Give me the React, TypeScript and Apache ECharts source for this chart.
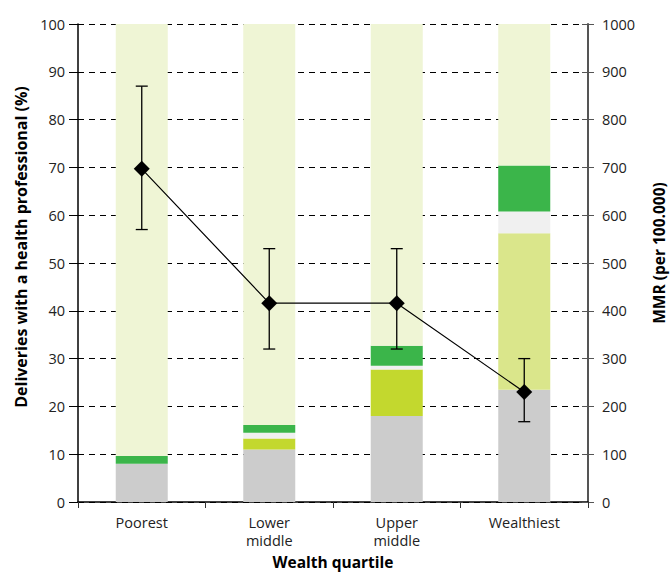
import React, { useEffect, useRef } from "react";
import * as echarts from "echarts";

const categories = ["Poorest", "Lower\nmiddle", "Upper\nmiddle", "Wealthiest"];
// stacked bar segments (% of deliveries)
const graySeg = [8, 11, 18, 23.5];
const midSeg = [0, 2.3, 9.7, 32.7];
const gapSeg = [0, 1.2, 0.8, 4.6];
const greenSeg = [1.6, 1.6, 4.2, 9.6];
const midColors = ["#C3D82E", "#C3D82E", "#C3D82E", "#DAE68B"];
// MMR (per 100.000)
const mmr = [697, 416, 416, 230];
const mmrLow = [570, 320, 320, 168];
const mmrHigh = [870, 530, 530, 300];

const leftTicks = { min: 0, max: 100, interval: 10 };
const rightTicks = { min: 0, max: 1000, interval: 100 };

const FONT = "'Open Sans', 'Noto Sans', sans-serif";

export default function App() {
  const ref = useRef<HTMLDivElement>(null);
  useEffect(() => {
    if (!ref.current) return;
    const chart = echarts.init(ref.current, undefined, { renderer: "svg" });
    const rest = categories.map(
      (_, i) => 100 - graySeg[i] - midSeg[i] - gapSeg[i] - greenSeg[i]
    );
    const barCommon = {
      type: "bar",
      stack: "total",
      barWidth: 52,
      yAxisIndex: 0,
      z: 2,
      silent: true,
    };
    const nameStyle = {
      fontWeight: "bold",
      fontSize: 16,
      color: "#000",
      fontFamily: FONT,
    };
    chart.setOption({
      animation: false,
      textStyle: { fontFamily: FONT },
      grid: {
        left: 78,
        right: 83,
        top: 24,
        bottom: 72,
        containLabel: false,
        outerBoundsMode: "none",
      },
      xAxis: {
        type: "category",
        data: categories,
        axisLine: { lineStyle: { color: "#000", width: 1.5 } },
        axisTick: { show: true, length: 6, lineStyle: { color: "#333" } },
        axisLabel: {
          color: "#222",
          fontSize: 14.5,
          margin: 11,
          lineHeight: 18,
          fontFamily: FONT,
        },
        name: "Wealth quartile",
        nameLocation: "middle",
        nameGap: 46,
        nameTextStyle: { ...nameStyle, fontSize: 15.5, lineHeight: 16 },
      },
      yAxis: [
        {
          type: "value",
          ...leftTicks,
          position: "left",
          axisLine: { show: true, lineStyle: { color: "#000", width: 1.5 } },
          axisTick: { show: true, length: 9, lineStyle: { color: "#000" } },
          axisLabel: {
            color: "#222",
            fontSize: 14.5,
            margin: 13,
            fontFamily: FONT,
            formatter: (v: number) => String(v),
          },
          splitLine: {
            show: true,
            lineStyle: { color: "#000", type: [6, 5], width: 1 },
          },
          name: "Deliveries with a health professional (%)",
          nameLocation: "middle",
          nameRotate: 90,
          nameGap: 49,
          nameTextStyle: { ...nameStyle, padding: [0, 0, 0, 32] },
        },
        {
          type: "value",
          ...rightTicks,
          position: "right",
          axisLine: { show: true, lineStyle: { color: "#555", width: 2 } },
          axisTick: { show: true, length: 6, lineStyle: { color: "#555" } },
          axisLabel: {
            color: "#222",
            fontSize: 14.5,
            margin: 14,
            fontFamily: FONT,
            formatter: (v: number) => String(v),
          },
          splitLine: { show: false },
          name: "MMR (per 100.000)",
          nameLocation: "middle",
          nameRotate: 90,
          nameGap: 63,
          nameTextStyle: { ...nameStyle, fontSize: 15.5, padding: [0, 0, 0, 20] },
        },
        {
          type: "value",
          ...rightTicks,
          position: "right",
          axisLine: { show: false },
          axisTick: { show: true, inside: true, length: 6, lineStyle: { color: "#555" } },
          axisLabel: { show: false },
          splitLine: { show: false },
        },
      ],
      series: [
        { ...barCommon, name: "gray", data: graySeg, itemStyle: { color: "#CCCCCC" } },
        {
          ...barCommon,
          name: "mid",
          data: midSeg.map((v, i) => ({ value: v, itemStyle: { color: midColors[i] } })),
        },
        { ...barCommon, name: "gap", data: gapSeg, itemStyle: { color: "#F0F0F0" } },
        { ...barCommon, name: "green", data: greenSeg, itemStyle: { color: "#3BB54A" } },
        { ...barCommon, name: "rest", data: rest, itemStyle: { color: "#EFF5D5" } },
        {
          type: "custom",
          name: "mmr-error",
          yAxisIndex: 1,
          z: 3,
          silent: true,
          encode: { x: 0, y: [1, 2] },
          data: mmrLow.map((l, i) => [i, l, mmrHigh[i]]),
          renderItem: (params: any, api: any) => {
            const idx = api.value(0);
            const lo = api.coord([idx, api.value(1)]);
            const hi = api.coord([idx, api.value(2)]);
            const hw = 6;
            const st = { stroke: "#000", lineWidth: 1.3 };
            return {
              type: "group",
              children: [
                { type: "line", shape: { x1: lo[0], y1: lo[1], x2: hi[0], y2: hi[1] }, style: st },
                { type: "line", shape: { x1: lo[0] - hw, y1: lo[1], x2: lo[0] + hw, y2: lo[1] }, style: st },
                { type: "line", shape: { x1: hi[0] - hw, y1: hi[1], x2: hi[0] + hw, y2: hi[1] }, style: st },
              ],
            };
          },
        },
        {
          type: "line",
          name: "MMR",
          yAxisIndex: 1,
          z: 4,
          data: mmr,
          symbol: "diamond",
          symbolSize: 16,
          itemStyle: { color: "#000" },
          lineStyle: { color: "#000", width: 1.2 },
          silent: true,
        },
      ],
    });
    return () => chart.dispose();
  }, []);
  return (
    <div
      ref={ref}
      style={{ position: "absolute", left: 0, top: 0, width: 671, height: 574 }}
    />
  );
}
